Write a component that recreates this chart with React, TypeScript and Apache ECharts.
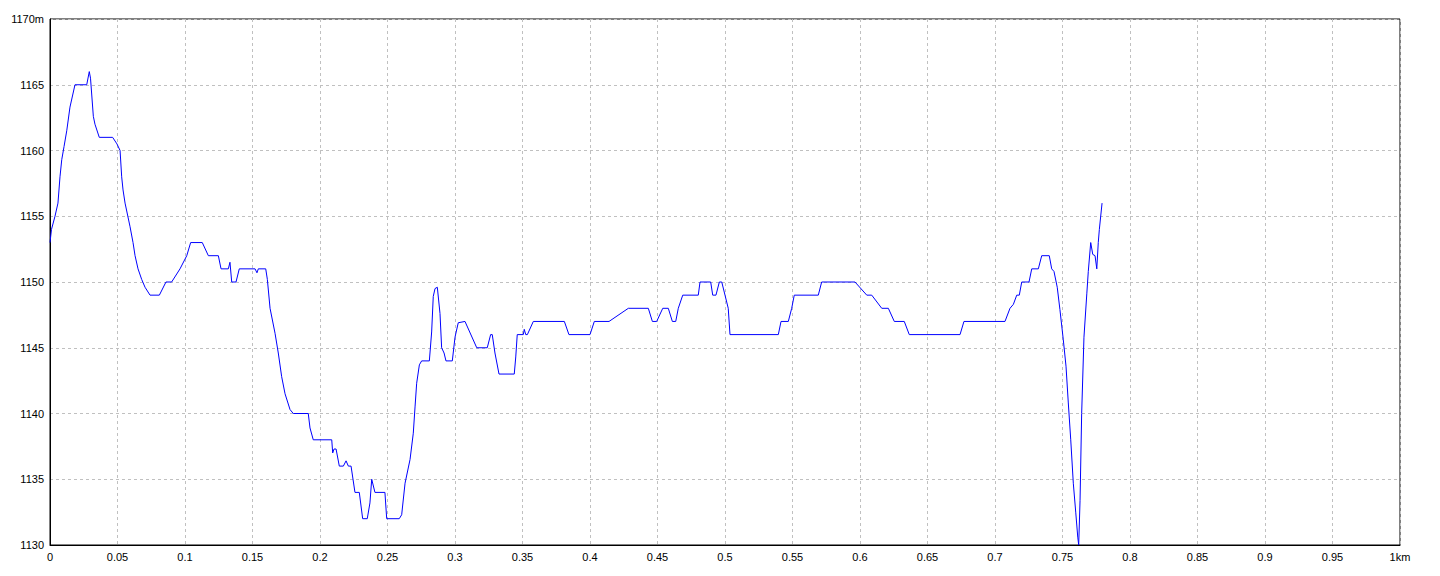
import React, { useEffect, useRef } from "react";
import * as echarts from "echarts";

// distance along route (km)
const distanceKm: number[] = [
  0, 0.0011, 0.0037, 0.0059, 0.0074, 0.0087, 0.0104, 0.0124, 0.0148, 0.0185,
  0.0272, 0.0291, 0.03, 0.0321, 0.0333, 0.0365, 0.0464, 0.0496, 0.0519, 0.0531,
  0.0541, 0.0556, 0.0593, 0.0615, 0.063, 0.0652, 0.0679, 0.0704, 0.0741, 0.081,
  0.0859, 0.0901, 0.0963, 0.1013, 0.1042, 0.1128, 0.1173, 0.1247, 0.1267, 0.1321,
  0.1333, 0.1346, 0.1378, 0.1402, 0.1519, 0.1533, 0.1543, 0.1598, 0.161, 0.163,
  0.1667, 0.1691, 0.1716, 0.1741, 0.1778, 0.1802, 0.1913, 0.1926, 0.195, 0.2087,
  0.2094, 0.2104, 0.2119, 0.2143, 0.2173, 0.2193, 0.221, 0.223, 0.2259, 0.2291,
  0.2316, 0.235, 0.237, 0.2383, 0.2407, 0.2481, 0.2494, 0.2587, 0.2605, 0.263,
  0.2667, 0.2691, 0.2704, 0.2716, 0.2736, 0.2753, 0.281, 0.2827, 0.2839, 0.2852,
  0.2869, 0.2889, 0.2901, 0.2919, 0.2933, 0.298, 0.3, 0.3024, 0.3074, 0.3161,
  0.3239, 0.3264, 0.3276, 0.3296, 0.3326, 0.3439, 0.345, 0.3461, 0.3506, 0.3513,
  0.3524, 0.3536, 0.358, 0.381, 0.3827, 0.3844, 0.4, 0.4032, 0.4141, 0.4284,
  0.4432, 0.4462, 0.4494, 0.4539, 0.458, 0.461, 0.4635, 0.4654, 0.4687, 0.4802,
  0.4815, 0.4894, 0.4909, 0.4933, 0.4958, 0.4976, 0.5, 0.5024, 0.5037, 0.5395,
  0.5415, 0.5469, 0.5494, 0.5513, 0.5691, 0.5716, 0.5963, 0.605, 0.6087, 0.6161,
  0.621, 0.6254, 0.6328, 0.6365, 0.6741, 0.677, 0.7074, 0.7111, 0.7136, 0.7161,
  0.718, 0.7198, 0.7252, 0.7272, 0.7321, 0.7346, 0.7402, 0.742, 0.7437, 0.7461,
  0.7481, 0.7506, 0.7526, 0.7543, 0.7561, 0.758, 0.7598, 0.7613, 0.762, 0.763,
  0.7642, 0.7659, 0.768, 0.7691, 0.7709, 0.7724, 0.7741, 0.7754, 0.7765, 0.7773,
  0.7793,
];

// elevation (m)
const elevationM: number[] = [
  1153, 1154, 1155, 1156, 1158, 1159.3, 1160.3, 1161.5, 1163.3, 1165,
  1165, 1166, 1165.5, 1162.6, 1162, 1161, 1161, 1160.5, 1160, 1158,
  1157, 1156, 1154.2, 1153, 1152, 1151, 1150.2, 1149.6, 1149, 1149,
  1150, 1150, 1151, 1152, 1153, 1153, 1152, 1152, 1151, 1151,
  1151.5, 1150, 1150, 1151, 1151, 1150.7, 1151, 1151, 1150.2, 1148,
  1146.1, 1144.6, 1142.8, 1141.5, 1140.3, 1140, 1140, 1138.9, 1138, 1138,
  1137, 1137.3, 1137.3, 1136, 1136, 1136.4, 1136, 1136, 1134, 1134,
  1132, 1132, 1133.2, 1135, 1134, 1134, 1132, 1132, 1132.3, 1134.7,
  1136.5, 1138.5, 1140.5, 1142.3, 1143.7, 1144, 1144, 1146.2, 1148.9, 1149.5,
  1149.6, 1147.6, 1145, 1144.6, 1144, 1144, 1145.8, 1146.9, 1147, 1145,
  1145, 1146, 1146, 1144.6, 1143, 1143, 1144.3, 1146, 1146, 1146.4,
  1146, 1146, 1147, 1147, 1146.5, 1146, 1146, 1147, 1147, 1148,
  1148, 1147, 1147, 1148, 1148, 1147, 1147, 1148, 1149, 1149,
  1150, 1150, 1149, 1149, 1150, 1150, 1149, 1148, 1146, 1146,
  1147, 1147, 1148, 1149, 1149, 1150, 1150, 1149, 1149, 1148,
  1148, 1147, 1147, 1146, 1146, 1147, 1147, 1148, 1148.3, 1149,
  1149, 1150, 1150, 1151, 1151, 1152, 1152, 1151, 1150.8, 1149.6,
  1147.9, 1145.6, 1143.6, 1140.8, 1138, 1134.7, 1132.5, 1130.6, 1130, 1133.4,
  1140, 1145.8, 1149.1, 1150.8, 1153, 1152.1, 1152, 1151, 1153, 1154,
  1156,
];

const X_MIN = 0;
const X_MAX = 1;
const X_STEP = 0.05;
const Y_MIN = 1130;
const Y_MAX = 1170;
const Y_STEP = 5;

export default function App() {
  const ref = useRef<HTMLDivElement>(null);

  useEffect(() => {
    if (!ref.current) return;
    const chart = echarts.init(ref.current, undefined, { renderer: "svg" });
    const fontFamily = "'Liberation Sans', Arial, sans-serif";
    chart.setOption({
      animation: false,
      backgroundColor: "#ffffff",
      grid: {
        left: 50,
        right: 40,
        top: 19,
        bottom: 31,
        show: true,
        borderColor: "#000000",
        borderWidth: 1,
        containLabel: false,
      },
      xAxis: {
        type: "value",
        min: X_MIN,
        max: X_MAX,
        interval: X_STEP,
        axisLine: { show: true, onZero: false, lineStyle: { color: "#000", width: 1 } },
        axisTick: { show: false },
        axisLabel: {
          color: "#000",
          fontSize: 11,
          fontFamily,
          margin: 6,
          formatter: (v: number) => {
            const r = parseFloat(v.toFixed(2));
            return r === X_MAX ? r + "km" : String(r);
          },
        },
        splitLine: {
          show: true,
          lineStyle: { color: "#c0c0c0", type: [3, 3], width: 1 },
        },
      },
      yAxis: {
        type: "value",
        min: Y_MIN,
        max: Y_MAX,
        interval: Y_STEP,
        axisLine: { show: true, onZero: false, lineStyle: { color: "#000", width: 1 } },
        axisTick: { show: false },
        axisLabel: {
          color: "#000",
          fontSize: 11,
          fontFamily,
          margin: 6,
          formatter: (v: number) => (v === Y_MAX ? v + "m" : String(v)),
        },
        splitLine: {
          show: true,
          lineStyle: { color: "#c0c0c0", type: [3, 3], width: 1 },
        },
      },
      series: [
        {
          type: "line",
          data: distanceKm.map((d, i) => [d, elevationM[i]]),
          showSymbol: false,
          symbol: "none",
          lineStyle: { color: "#0000ff", width: 1 },
          itemStyle: { color: "#0000ff" },
        },
      ],
    });
    return () => chart.dispose();
  }, []);

  return (
    <div
      ref={ref}
      style={{ position: "fixed", left: 0, top: 0, width: 1440, height: 576, background: "#fff" }}
    />
  );
}
